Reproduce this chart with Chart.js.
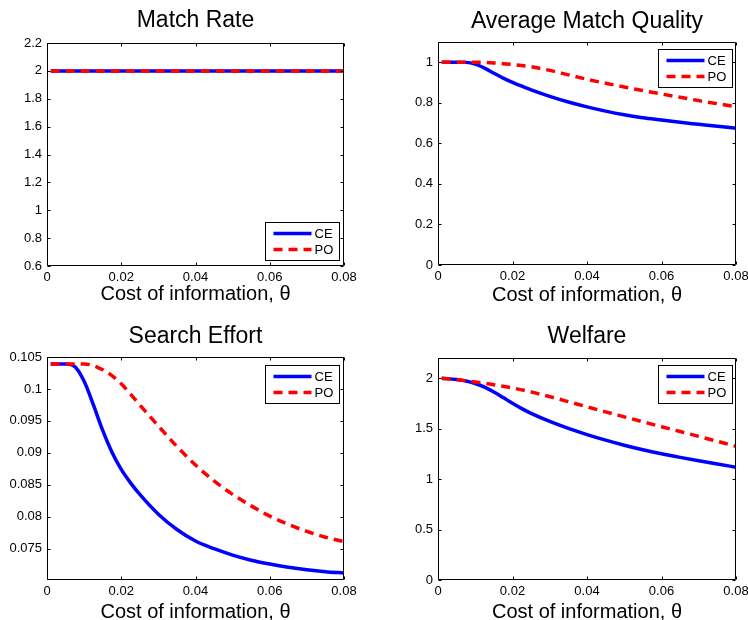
<!DOCTYPE html>
<html>
<head>
<meta charset="utf-8">
<script src="https://cdn.jsdelivr.net/npm/chart.js@4.4.1/dist/chart.umd.min.js"></script>
<style>
  html, body { margin: 0; padding: 0; background: #fff; overflow: hidden; width: 748px; height: 620px; }
  canvas { position: absolute; }
</style>
</head>
<body>
<canvas id="matchRate" width="374" height="310" style="left:0;top:0"></canvas>
<canvas id="quality" width="400" height="310" style="left:374px;top:0"></canvas>
<canvas id="effort" width="374" height="330" style="left:0;top:310px"></canvas>
<canvas id="welfare" width="400" height="330" style="left:374px;top:310px"></canvas>
<script>
// cost of information, theta
const theta = [0.001, 0.005, 0.0075, 0.01, 0.0125, 0.015, 0.0175, 0.02, 0.0225, 0.025, 0.03, 0.035, 0.04, 0.045, 0.05, 0.055, 0.06, 0.065, 0.07, 0.075, 0.08];

const matchRateCE = [2, 2, 2, 2, 2, 2, 2, 2, 2, 2, 2, 2, 2, 2, 2, 2, 2, 2, 2, 2, 2];
const matchRatePO = [2, 2, 2, 2, 2, 2, 2, 2, 2, 2, 2, 2, 2, 2, 2, 2, 2, 2, 2, 2, 2];

const qualityCE = [1.0, 1.0, 0.9995, 0.991, 0.971, 0.946, 0.922, 0.901, 0.882, 0.864, 0.832, 0.804, 0.78, 0.759, 0.741, 0.726, 0.715, 0.704, 0.694, 0.684, 0.675];
const qualityPO = [1.0, 1.0, 1.0, 1.0, 0.9995, 0.997, 0.993, 0.989, 0.984, 0.978, 0.96, 0.938, 0.916, 0.8965, 0.878, 0.8605, 0.8435, 0.827, 0.811, 0.7955, 0.781];

const effortCE = [0.1039, 0.1039, 0.1035, 0.1012, 0.0975, 0.0935, 0.0901, 0.0874, 0.0853, 0.0835, 0.0804, 0.078, 0.0762, 0.075, 0.074, 0.0732, 0.0726, 0.0721, 0.0717, 0.0714, 0.0712];
const effortPO = [0.1039, 0.1039, 0.1039, 0.1039, 0.10365, 0.103, 0.1021, 0.1008, 0.0992, 0.0975, 0.0942, 0.091, 0.0881, 0.0856, 0.0835, 0.0817, 0.0801, 0.0788, 0.0777, 0.0768, 0.0761];

const welfareCE = [2.0, 1.986, 1.972, 1.947, 1.911, 1.863, 1.808, 1.751, 1.698, 1.651, 1.571, 1.502, 1.441, 1.386, 1.336, 1.291, 1.251, 1.215, 1.181, 1.149, 1.118];
const welfarePO = [2.0, 1.986, 1.975, 1.963, 1.95, 1.9355, 1.92, 1.903, 1.884, 1.864, 1.817, 1.767, 1.716, 1.666, 1.617, 1.568, 1.519, 1.471, 1.423, 1.374, 1.325];

// tick values and labels
const xTicks = [0, 0.02, 0.04, 0.06, 0.08];
const xTickLabels = ["0", "0.02", "0.04", "0.06", "0.08"];
const matchRateTicks = [0.6, 0.8, 1, 1.2, 1.4, 1.6, 1.8, 2, 2.2];
const matchRateLabels = ["0.6", "0.8", "1", "1.2", "1.4", "1.6", "1.8", "2", "2.2"];
const qualityTicks = [0, 0.2, 0.4, 0.6, 0.8, 1];
const qualityLabels = ["0", "0.2", "0.4", "0.6", "0.8", "1"];
const effortTicks = [0.075, 0.08, 0.085, 0.09, 0.095, 0.1, 0.105];
const effortLabels = ["0.075", "0.08", "0.085", "0.09", "0.095", "0.1", "0.105"];
const welfareTicks = [0, 0.5, 1, 1.5, 2];
const welfareLabels = ["0", "0.5", "1", "1.5", "2"];

const fontFamily = "'Liberation Sans', Arial, Helvetica, sans-serif";
Chart.defaults.font.family = fontFamily;
Chart.defaults.color = "#000";

// matlab style box: frame, inward ticks on all sides, legend inside the axes
const framePlugin = {
	id: "frame",
	afterDraw(chart, args, opts) {
		const { ctx, chartArea: a, scales } = chart;
		const L = Math.round(a.left) + 0.5, R = Math.round(a.right) - 0.5;
		const T = Math.round(a.top) + 0.5, B = Math.round(a.bottom) - 0.5;
		const len = 3;
		ctx.save();
		ctx.strokeStyle = "#000";
		ctx.lineWidth = 1;
		ctx.beginPath();
		ctx.rect(L, T, R - L, B - T);
		scales.x.ticks.forEach((t) => {
			const px = Math.round(scales.x.getPixelForValue(t.value)) + 0.5;
			ctx.moveTo(px, B); ctx.lineTo(px, B - len);
			ctx.moveTo(px, T); ctx.lineTo(px, T + len);
		});
		scales.y.ticks.forEach((t) => {
			const py = Math.round(scales.y.getPixelForValue(t.value)) + 0.5;
			ctx.moveTo(L, py); ctx.lineTo(L + len, py);
			ctx.moveTo(R, py); ctx.lineTo(R - len, py);
		});
		ctx.stroke();

		// legend
		const w = 74, h = 38;
		const x0 = Math.round(R - opts.right - w) + 0.5;
		const y0 = opts.at === "bottom" ? Math.round(B - opts.offset - h) + 0.5 : Math.round(T + opts.offset) + 0.5;
		ctx.fillStyle = "#fff";
		ctx.fillRect(x0, y0, w, h);
		ctx.strokeRect(x0, y0, w, h);
		ctx.font = "13px " + fontFamily;
		ctx.textBaseline = "middle";
		chart.data.datasets.forEach((ds, i) => {
			const y = y0 + 11 + i * 16;
			ctx.strokeStyle = ds.borderColor;
			ctx.lineWidth = ds.borderWidth;
			ctx.setLineDash(ds.borderDash || []);
			ctx.beginPath();
			ctx.moveTo(x0 + 8, y);
			ctx.lineTo(x0 + 46, y);
			ctx.stroke();
			ctx.fillStyle = "#000";
			ctx.fillText(ds.label, x0 + 49, y + 0.5);
		});
		ctx.restore();
	},
};

function points(xs, ys) {
	return xs.map((x, i) => ({ x: x, y: ys[i] }));
}

function makeChart(id, o) {
	return new Chart(document.getElementById(id), {
		type: "line",
		data: {
			datasets: [
				{ label: "CE", data: points(theta, o.ce), borderColor: "rgb(0, 0, 255)", borderWidth: 3.5, order: 1 },
				{ label: "PO", data: points(theta, o.po), borderColor: "rgb(255, 0, 0)", borderWidth: 3.5, borderDash: [9, 6], order: 0 },
			],
		},
		options: {
			responsive: false,
			animation: false,
			events: [],
			layout: { padding: { left: 0, right: o.padRight, top: 0, bottom: 0 } },
			elements: {
				point: { radius: 0 },
				line: { cubicInterpolationMode: "monotone", fill: false },
			},
			plugins: {
				legend: { display: false },
				tooltip: { enabled: false },
				title: {
					display: true,
					fullSize: false, // centre over the plot box, not the canvas
					text: o.title,
					color: "#000",
					font: { size: 23, weight: "normal", lineHeight: 1.2 },
					padding: { top: o.titleTop, bottom: o.titleBottom },
				},
				frame: { at: o.legendAt, right: o.legendRight, offset: o.legendOffset },
			},
			scales: {
				x: {
					type: "linear",
					min: 0,
					max: 0.08,
					afterBuildTicks: (s) => { s.ticks = xTicks.map((v) => ({ value: v })); },
					afterFit: (s) => { s.height = o.xHeight; },
					grid: { display: false, drawTicks: false },
					border: { display: false },
					ticks: { font: { size: 13 }, padding: 4, autoSkip: false, maxRotation: 0, callback: (v, i) => xTickLabels[i] },
					title: {
						display: true,
						text: "Cost of information, θ",
						font: { size: 20, lineHeight: 1.2 },
						padding: { top: 0, bottom: o.xTitleBottom },
					},
				},
				y: {
					type: "linear",
					min: o.yMin,
					max: o.yMax,
					afterBuildTicks: (s) => { s.ticks = o.yTicks.map((v) => ({ value: v })); },
					afterFit: (s) => { s.width = o.yWidth; },
					grid: { display: false, drawTicks: false },
					border: { display: false },
					ticks: { font: { size: 13 }, padding: 5, autoSkip: false, callback: (v, i) => o.yLabels[i] },
				},
			},
		},
		plugins: [framePlugin],
	});
}

makeChart("matchRate", {
	title: "Match Rate", ce: matchRateCE, po: matchRatePO,
	yMin: 0.6, yMax: 2.2, yTicks: matchRateTicks, yLabels: matchRateLabels,
	yWidth: 47, padRight: 30, xHeight: 44, titleTop: 7.2, titleBottom: 8.2, xTitleBottom: 4,
	legendAt: "bottom", legendRight: 5, legendOffset: 6,
});

makeChart("quality", {
	title: "Average Match Quality", ce: qualityCE, po: qualityPO,
	yMin: 0, yMax: 1.1, yTicks: qualityTicks, yLabels: qualityLabels,
	yWidth: 64, padRight: 38, xHeight: 45, titleTop: 8.2, titleBottom: 6.2, xTitleBottom: 3,
	legendAt: "top", legendRight: 4, legendOffset: 6,
});

makeChart("effort", {
	title: "Search Effort", ce: effortCE, po: effortPO,
	yMin: 0.0701, yMax: 0.105, yTicks: effortTicks, yLabels: effortLabels,
	yWidth: 47, padRight: 30, xHeight: 60, titleTop: 12.9, titleBottom: 6.5, xTitleBottom: 16,
	legendAt: "top", legendRight: 5, legendOffset: 7,
});

makeChart("welfare", {
	title: "Welfare", ce: welfareCE, po: welfarePO,
	yMin: 0, yMax: 2.2, yTicks: welfareTicks, yLabels: welfareLabels,
	yWidth: 64, padRight: 38, xHeight: 60, titleTop: 12.9, titleBottom: 7.5, xTitleBottom: 16,
	legendAt: "top", legendRight: 4, legendOffset: 6,
});
</script>
</body>
</html>
